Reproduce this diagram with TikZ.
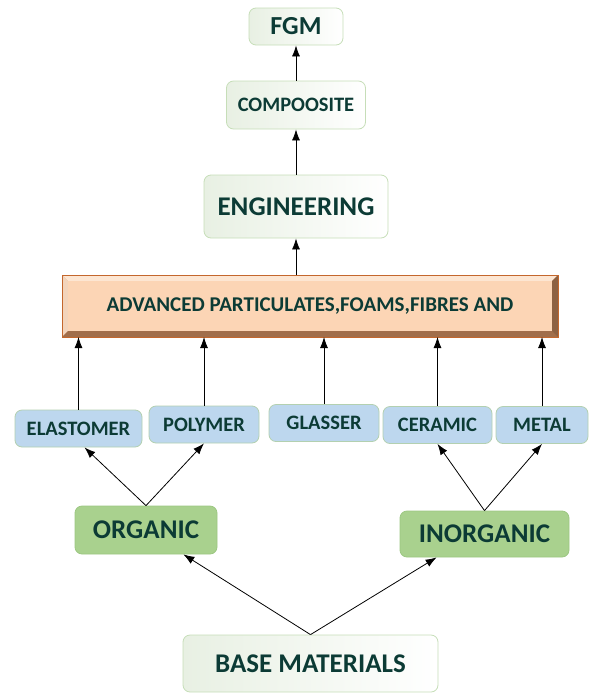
\documentclass[tikz,border=0pt]{standalone}
\usepackage{fontspec}
\setmainfont{Carlito}
\usetikzlibrary{arrows.meta,calc}
\definecolor{txt}{HTML}{0C3B35}
\definecolor{wborder}{HTML}{C6DEB8}
\definecolor{wleft}{HTML}{E8F0E3}
\definecolor{bluefill}{HTML}{BDD7EE}
\definecolor{blueborder}{HTML}{B3D0B0}
\definecolor{greenfill}{HTML}{A9D18E}
\definecolor{greenborder}{HTML}{9CC782}
\definecolor{peach}{HTML}{FCD5B5}
\definecolor{peachlight}{HTML}{FDE6D2}
\definecolor{peachdark}{HTML}{C98A5E}
\definecolor{orangeborder}{HTML}{C4672D}
\tikzset{
  fs/.style={font=\bfseries\fontsize{#1}{#1}\selectfont},
  wbox/.style={draw=wborder, line width=0.8pt, rounded corners=7pt, left color=wleft, right color=white, text=txt, inner sep=0pt},
  bbox/.style={draw=blueborder, line width=0.8pt, rounded corners=7pt, fill=bluefill, text=txt, inner sep=0pt, minimum height=37pt, fs=20.5},
  gbox/.style={draw=greenborder, line width=0.8pt, rounded corners=7pt, fill=greenfill, text=txt, inner sep=0pt, fs=27},
  arr/.style={-{Latex[length=11pt,width=8pt]}, line width=0.8pt, black},
}
\begin{document}
\begin{tikzpicture}[x=1pt,y=-1pt]
\useasboundingbox (0,0) rectangle (590,694);
% top chain
\node[wbox, minimum width=94pt, minimum height=37pt, fs=26] (fgm) at (296,26.5) {FGM};
\node[wbox, minimum width=139pt, minimum height=48pt, fs=20.5] (comp) at (296,105) {COMPOOSITE};
\node[wbox, minimum width=184pt, minimum height=63pt, fs=27] (eng) at (296,206.5) {ENGINEERING};
% advanced box with bevel
\fill[peachdark] (62,275) rectangle (558,337);
\fill[peachlight] (62,275) -- (558,275) -- (552,281) -- (68,281) -- cycle;
\fill[peachlight!80!peachdark] (62,275) -- (68,281) -- (68,331) -- (62,337) -- cycle;
\fill[peachdark!80!black] (62,337) -- (68,331) -- (552,331) -- (558,337) -- cycle;
\fill[peachdark!70!black] (558,275) -- (552,281) -- (552,331) -- (558,337) -- cycle;
\node[fill=peach, minimum width=484pt, minimum height=50pt, inner sep=0pt, text=txt, fs=21] (adv) at (310,306) {ADVANCED PARTICULATES,FOAMS,FIBRES AND};
\draw[orangeborder, line width=0.8pt] (62,275) rectangle (558,337);
\coordinate (advtop) at (296,275);
% blue boxes
\node[bbox, minimum width=127pt] (elas) at (78.5,428.5) {ELASTOMER};
\node[bbox, minimum width=110pt] (poly) at (204,424.5) {POLYMER};
\node[bbox, minimum width=110pt] (glas) at (324,423) {GLASSER};
\node[bbox, minimum width=109pt] (cera) at (437.5,425) {CERAMIC};
\node[bbox, minimum width=92pt] (metal) at (542,425) {METAL};
% green boxes
\node[gbox, minimum width=142pt, minimum height=48pt] (org) at (146,530) {ORGANIC};
\node[gbox, minimum width=169pt, minimum height=46pt] (inorg) at (484.5,534) {INORGANIC};
% base
\node[wbox, minimum width=255pt, minimum height=57pt, fs=27] (base) at (310.5,663.5) {BASE MATERIALS};
% arrows
\draw[arr] (comp.north) -- (fgm.south);
\draw[arr] (eng.north) -- (comp.south);
\draw[arr] (advtop) -- (eng.south);
\draw[arr] (elas.north) -- (elas.north |- 0,337);
\draw[arr] (poly.north) -- (poly.north |- 0,337);
\draw[arr] (glas.north) -- (glas.north |- 0,337);
\draw[arr] (cera.north) -- (cera.north |- 0,337);
\draw[arr] (metal.north) -- (metal.north |- 0,337);
\draw[arr] (org.north) -- ($(elas.south)+(6,0)$);
\draw[arr] (org.north) -- (poly.south);
\draw[arr] (inorg.north) -- (cera.south);
\draw[arr] (inorg.north) -- (metal.south);
\draw[arr] (base.north) -- ($(org.south east)+(-34,0)$);
\draw[arr] (base.north) -- ($(inorg.south west)+(37,0)$);
\end{tikzpicture}
\end{document}
